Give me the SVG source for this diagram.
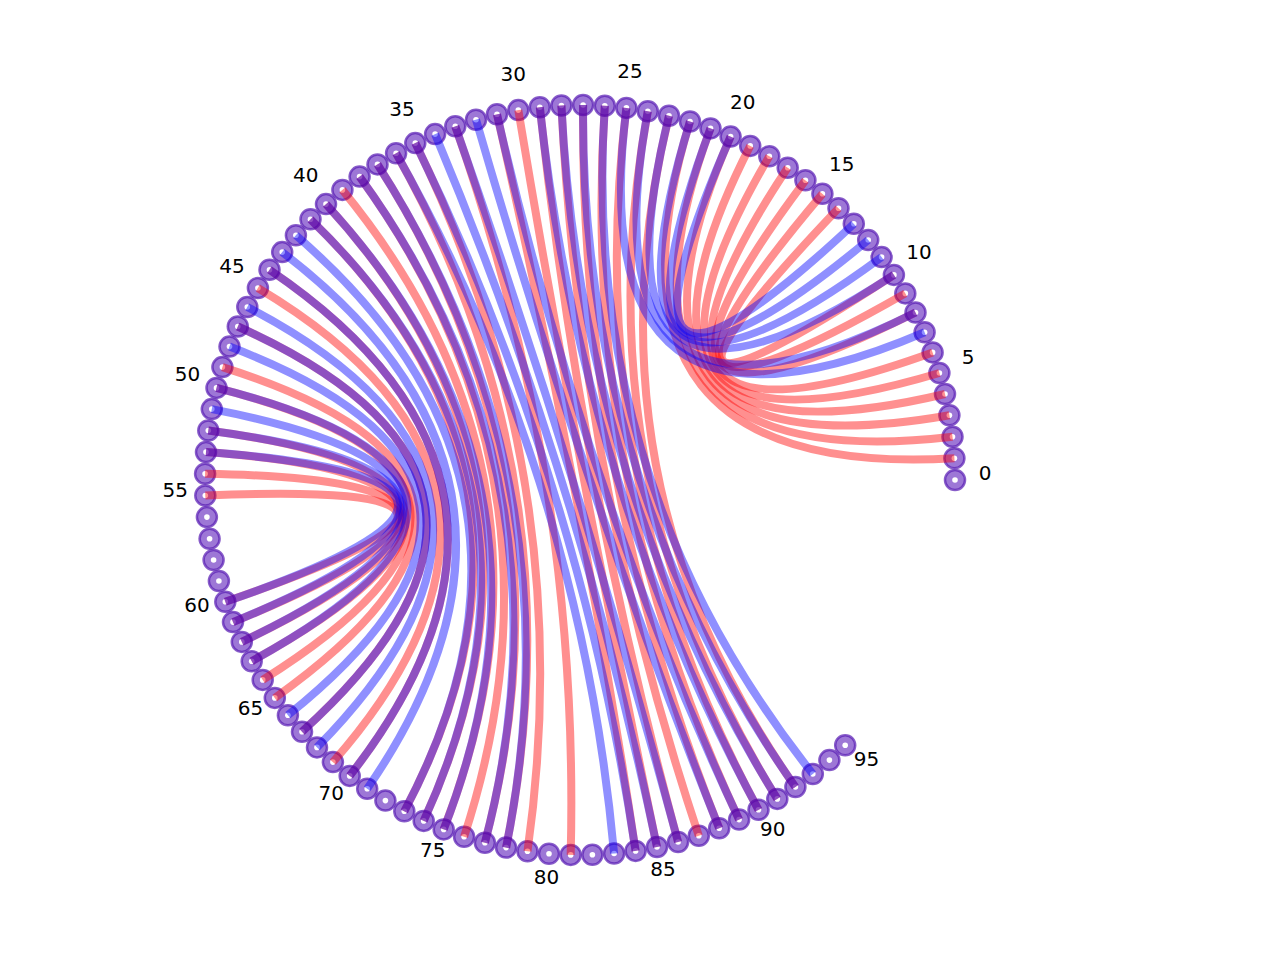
<svg xmlns="http://www.w3.org/2000/svg" width="1280" height="960" viewBox="0 0 1280 960">
<style>
.n{fill:#6e37c3;fill-opacity:0.68;stroke:#5a1eb4;stroke-opacity:0.72;stroke-width:2.5}
.d{fill:#ffffff}
.r{fill:none;stroke:#ff0000;stroke-opacity:0.44;stroke-width:8;stroke-linecap:butt}
.b{fill:none;stroke:#0000ff;stroke-opacity:0.44;stroke-width:8;stroke-linecap:butt}
.t{font-family:"DejaVu Sans","Liberation Sans",sans-serif;font-size:20px;fill:#000;text-anchor:middle}
</style>
<rect width="1280" height="960" fill="#ffffff"/>
<g id="nodes">
<g id="n0"><circle class="n" cx="955.0" cy="480.0" r="10"/><circle class="d" cx="955.0" cy="480.0" r="2.8"/></g>
<g id="n1"><circle class="n" cx="954.4" cy="458.3" r="10"/><circle class="d" cx="954.4" cy="458.3" r="2.8"/></g>
<g id="n2"><circle class="n" cx="952.5" cy="436.7" r="10"/><circle class="d" cx="952.5" cy="436.7" r="2.8"/></g>
<g id="n3"><circle class="n" cx="949.4" cy="415.2" r="10"/><circle class="d" cx="949.4" cy="415.2" r="2.8"/></g>
<g id="n4"><circle class="n" cx="945.0" cy="394.0" r="10"/><circle class="d" cx="945.0" cy="394.0" r="2.8"/></g>
<g id="n5"><circle class="n" cx="939.4" cy="373.0" r="10"/><circle class="d" cx="939.4" cy="373.0" r="2.8"/></g>
<g id="n6"><circle class="n" cx="932.6" cy="352.4" r="10"/><circle class="d" cx="932.6" cy="352.4" r="2.8"/></g>
<g id="n7"><circle class="n" cx="924.6" cy="332.2" r="10"/><circle class="d" cx="924.6" cy="332.2" r="2.8"/></g>
<g id="n8"><circle class="n" cx="915.5" cy="312.5" r="10"/><circle class="d" cx="915.5" cy="312.5" r="2.8"/></g>
<g id="n9"><circle class="n" cx="905.3" cy="293.4" r="10"/><circle class="d" cx="905.3" cy="293.4" r="2.8"/></g>
<g id="n10"><circle class="n" cx="893.9" cy="274.9" r="10"/><circle class="d" cx="893.9" cy="274.9" r="2.8"/></g>
<g id="n11"><circle class="n" cx="881.6" cy="257.1" r="10"/><circle class="d" cx="881.6" cy="257.1" r="2.8"/></g>
<g id="n12"><circle class="n" cx="868.2" cy="240.0" r="10"/><circle class="d" cx="868.2" cy="240.0" r="2.8"/></g>
<g id="n13"><circle class="n" cx="853.8" cy="223.8" r="10"/><circle class="d" cx="853.8" cy="223.8" r="2.8"/></g>
<g id="n14"><circle class="n" cx="838.5" cy="208.3" r="10"/><circle class="d" cx="838.5" cy="208.3" r="2.8"/></g>
<g id="n15"><circle class="n" cx="822.4" cy="193.8" r="10"/><circle class="d" cx="822.4" cy="193.8" r="2.8"/></g>
<g id="n16"><circle class="n" cx="805.4" cy="180.3" r="10"/><circle class="d" cx="805.4" cy="180.3" r="2.8"/></g>
<g id="n17"><circle class="n" cx="787.7" cy="167.8" r="10"/><circle class="d" cx="787.7" cy="167.8" r="2.8"/></g>
<g id="n18"><circle class="n" cx="769.3" cy="156.3" r="10"/><circle class="d" cx="769.3" cy="156.3" r="2.8"/></g>
<g id="n19"><circle class="n" cx="750.2" cy="145.9" r="10"/><circle class="d" cx="750.2" cy="145.9" r="2.8"/></g>
<g id="n20"><circle class="n" cx="730.6" cy="136.6" r="10"/><circle class="d" cx="730.6" cy="136.6" r="2.8"/></g>
<g id="n21"><circle class="n" cx="710.5" cy="128.4" r="10"/><circle class="d" cx="710.5" cy="128.4" r="2.8"/></g>
<g id="n22"><circle class="n" cx="690.0" cy="121.5" r="10"/><circle class="d" cx="690.0" cy="121.5" r="2.8"/></g>
<g id="n23"><circle class="n" cx="669.0" cy="115.7" r="10"/><circle class="d" cx="669.0" cy="115.7" r="2.8"/></g>
<g id="n24"><circle class="n" cx="647.8" cy="111.2" r="10"/><circle class="d" cx="647.8" cy="111.2" r="2.8"/></g>
<g id="n25"><circle class="n" cx="626.4" cy="107.9" r="10"/><circle class="d" cx="626.4" cy="107.9" r="2.8"/></g>
<g id="n26"><circle class="n" cx="604.8" cy="105.8" r="10"/><circle class="d" cx="604.8" cy="105.8" r="2.8"/></g>
<g id="n27"><circle class="n" cx="583.1" cy="105.0" r="10"/><circle class="d" cx="583.1" cy="105.0" r="2.8"/></g>
<g id="n28"><circle class="n" cx="561.4" cy="105.5" r="10"/><circle class="d" cx="561.4" cy="105.5" r="2.8"/></g>
<g id="n29"><circle class="n" cx="539.8" cy="107.2" r="10"/><circle class="d" cx="539.8" cy="107.2" r="2.8"/></g>
<g id="n30"><circle class="n" cx="518.3" cy="110.1" r="10"/><circle class="d" cx="518.3" cy="110.1" r="2.8"/></g>
<g id="n31"><circle class="n" cx="497.0" cy="114.3" r="10"/><circle class="d" cx="497.0" cy="114.3" r="2.8"/></g>
<g id="n32"><circle class="n" cx="476.0" cy="119.7" r="10"/><circle class="d" cx="476.0" cy="119.7" r="2.8"/></g>
<g id="n33"><circle class="n" cx="455.3" cy="126.3" r="10"/><circle class="d" cx="455.3" cy="126.3" r="2.8"/></g>
<g id="n34"><circle class="n" cx="435.1" cy="134.1" r="10"/><circle class="d" cx="435.1" cy="134.1" r="2.8"/></g>
<g id="n35"><circle class="n" cx="415.3" cy="143.1" r="10"/><circle class="d" cx="415.3" cy="143.1" r="2.8"/></g>
<g id="n36"><circle class="n" cx="396.1" cy="153.2" r="10"/><circle class="d" cx="396.1" cy="153.2" r="2.8"/></g>
<g id="n37"><circle class="n" cx="377.5" cy="164.4" r="10"/><circle class="d" cx="377.5" cy="164.4" r="2.8"/></g>
<g id="n38"><circle class="n" cx="359.6" cy="176.6" r="10"/><circle class="d" cx="359.6" cy="176.6" r="2.8"/></g>
<g id="n39"><circle class="n" cx="342.4" cy="189.9" r="10"/><circle class="d" cx="342.4" cy="189.9" r="2.8"/></g>
<g id="n40"><circle class="n" cx="326.0" cy="204.1" r="10"/><circle class="d" cx="326.0" cy="204.1" r="2.8"/></g>
<g id="n41"><circle class="n" cx="310.5" cy="219.3" r="10"/><circle class="d" cx="310.5" cy="219.3" r="2.8"/></g>
<g id="n42"><circle class="n" cx="295.9" cy="235.3" r="10"/><circle class="d" cx="295.9" cy="235.3" r="2.8"/></g>
<g id="n43"><circle class="n" cx="282.2" cy="252.1" r="10"/><circle class="d" cx="282.2" cy="252.1" r="2.8"/></g>
<g id="n44"><circle class="n" cx="269.5" cy="269.7" r="10"/><circle class="d" cx="269.5" cy="269.7" r="2.8"/></g>
<g id="n45"><circle class="n" cx="257.9" cy="288.0" r="10"/><circle class="d" cx="257.9" cy="288.0" r="2.8"/></g>
<g id="n46"><circle class="n" cx="247.3" cy="307.0" r="10"/><circle class="d" cx="247.3" cy="307.0" r="2.8"/></g>
<g id="n47"><circle class="n" cx="237.8" cy="326.5" r="10"/><circle class="d" cx="237.8" cy="326.5" r="2.8"/></g>
<g id="n48"><circle class="n" cx="229.5" cy="346.6" r="10"/><circle class="d" cx="229.5" cy="346.6" r="2.8"/></g>
<g id="n49"><circle class="n" cx="222.4" cy="367.1" r="10"/><circle class="d" cx="222.4" cy="367.1" r="2.8"/></g>
<g id="n50"><circle class="n" cx="216.5" cy="387.9" r="10"/><circle class="d" cx="216.5" cy="387.9" r="2.8"/></g>
<g id="n51"><circle class="n" cx="211.8" cy="409.1" r="10"/><circle class="d" cx="211.8" cy="409.1" r="2.8"/></g>
<g id="n52"><circle class="n" cx="208.3" cy="430.5" r="10"/><circle class="d" cx="208.3" cy="430.5" r="2.8"/></g>
<g id="n53"><circle class="n" cx="206.0" cy="452.1" r="10"/><circle class="d" cx="206.0" cy="452.1" r="2.8"/></g>
<g id="n54"><circle class="n" cx="205.1" cy="473.8" r="10"/><circle class="d" cx="205.1" cy="473.8" r="2.8"/></g>
<g id="n55"><circle class="n" cx="205.3" cy="495.5" r="10"/><circle class="d" cx="205.3" cy="495.5" r="2.8"/></g>
<g id="n56"><circle class="n" cx="206.9" cy="517.1" r="10"/><circle class="d" cx="206.9" cy="517.1" r="2.8"/></g>
<g id="n57"><circle class="n" cx="209.6" cy="538.7" r="10"/><circle class="d" cx="209.6" cy="538.7" r="2.8"/></g>
<g id="n58"><circle class="n" cx="213.6" cy="560.0" r="10"/><circle class="d" cx="213.6" cy="560.0" r="2.8"/></g>
<g id="n59"><circle class="n" cx="218.9" cy="581.0" r="10"/><circle class="d" cx="218.9" cy="581.0" r="2.8"/></g>
<g id="n60"><circle class="n" cx="225.3" cy="601.8" r="10"/><circle class="d" cx="225.3" cy="601.8" r="2.8"/></g>
<g id="n61"><circle class="n" cx="233.0" cy="622.1" r="10"/><circle class="d" cx="233.0" cy="622.1" r="2.8"/></g>
<g id="n62"><circle class="n" cx="241.8" cy="641.9" r="10"/><circle class="d" cx="241.8" cy="641.9" r="2.8"/></g>
<g id="n63"><circle class="n" cx="251.7" cy="661.2" r="10"/><circle class="d" cx="251.7" cy="661.2" r="2.8"/></g>
<g id="n64"><circle class="n" cx="262.7" cy="679.9" r="10"/><circle class="d" cx="262.7" cy="679.9" r="2.8"/></g>
<g id="n65"><circle class="n" cx="274.8" cy="697.9" r="10"/><circle class="d" cx="274.8" cy="697.9" r="2.8"/></g>
<g id="n66"><circle class="n" cx="287.9" cy="715.2" r="10"/><circle class="d" cx="287.9" cy="715.2" r="2.8"/></g>
<g id="n67"><circle class="n" cx="302.0" cy="731.7" r="10"/><circle class="d" cx="302.0" cy="731.7" r="2.8"/></g>
<g id="n68"><circle class="n" cx="317.0" cy="747.4" r="10"/><circle class="d" cx="317.0" cy="747.4" r="2.8"/></g>
<g id="n69"><circle class="n" cx="332.9" cy="762.1" r="10"/><circle class="d" cx="332.9" cy="762.1" r="2.8"/></g>
<g id="n70"><circle class="n" cx="349.7" cy="775.9" r="10"/><circle class="d" cx="349.7" cy="775.9" r="2.8"/></g>
<g id="n71"><circle class="n" cx="367.2" cy="788.8" r="10"/><circle class="d" cx="367.2" cy="788.8" r="2.8"/></g>
<g id="n72"><circle class="n" cx="385.4" cy="800.6" r="10"/><circle class="d" cx="385.4" cy="800.6" r="2.8"/></g>
<g id="n73"><circle class="n" cx="404.3" cy="811.3" r="10"/><circle class="d" cx="404.3" cy="811.3" r="2.8"/></g>
<g id="n74"><circle class="n" cx="423.7" cy="820.9" r="10"/><circle class="d" cx="423.7" cy="820.9" r="2.8"/></g>
<g id="n75"><circle class="n" cx="443.7" cy="829.4" r="10"/><circle class="d" cx="443.7" cy="829.4" r="2.8"/></g>
<g id="n76"><circle class="n" cx="464.1" cy="836.7" r="10"/><circle class="d" cx="464.1" cy="836.7" r="2.8"/></g>
<g id="n77"><circle class="n" cx="484.9" cy="842.8" r="10"/><circle class="d" cx="484.9" cy="842.8" r="2.8"/></g>
<g id="n78"><circle class="n" cx="506.1" cy="847.6" r="10"/><circle class="d" cx="506.1" cy="847.6" r="2.8"/></g>
<g id="n79"><circle class="n" cx="527.5" cy="851.3" r="10"/><circle class="d" cx="527.5" cy="851.3" r="2.8"/></g>
<g id="n80"><circle class="n" cx="549.0" cy="853.7" r="10"/><circle class="d" cx="549.0" cy="853.7" r="2.8"/></g>
<g id="n81"><circle class="n" cx="570.7" cy="854.9" r="10"/><circle class="d" cx="570.7" cy="854.9" r="2.8"/></g>
<g id="n82"><circle class="n" cx="592.4" cy="854.8" r="10"/><circle class="d" cx="592.4" cy="854.8" r="2.8"/></g>
<g id="n83"><circle class="n" cx="614.1" cy="853.5" r="10"/><circle class="d" cx="614.1" cy="853.5" r="2.8"/></g>
<g id="n84"><circle class="n" cx="635.6" cy="850.9" r="10"/><circle class="d" cx="635.6" cy="850.9" r="2.8"/></g>
<g id="n85"><circle class="n" cx="657.0" cy="847.0" r="10"/><circle class="d" cx="657.0" cy="847.0" r="2.8"/></g>
<g id="n86"><circle class="n" cx="678.1" cy="842.0" r="10"/><circle class="d" cx="678.1" cy="842.0" r="2.8"/></g>
<g id="n87"><circle class="n" cx="698.8" cy="835.7" r="10"/><circle class="d" cx="698.8" cy="835.7" r="2.8"/></g>
<g id="n88"><circle class="n" cx="719.2" cy="828.2" r="10"/><circle class="d" cx="719.2" cy="828.2" r="2.8"/></g>
<g id="n89"><circle class="n" cx="739.1" cy="819.6" r="10"/><circle class="d" cx="739.1" cy="819.6" r="2.8"/></g>
<g id="n90"><circle class="n" cx="758.5" cy="809.8" r="10"/><circle class="d" cx="758.5" cy="809.8" r="2.8"/></g>
<g id="n91"><circle class="n" cx="777.3" cy="798.9" r="10"/><circle class="d" cx="777.3" cy="798.9" r="2.8"/></g>
<g id="n92"><circle class="n" cx="795.4" cy="787.0" r="10"/><circle class="d" cx="795.4" cy="787.0" r="2.8"/></g>
<g id="n93"><circle class="n" cx="812.8" cy="774.0" r="10"/><circle class="d" cx="812.8" cy="774.0" r="2.8"/></g>
<g id="n94"><circle class="n" cx="829.4" cy="760.1" r="10"/><circle class="d" cx="829.4" cy="760.1" r="2.8"/></g>
<g id="n95"><circle class="n" cx="845.2" cy="745.2" r="10"/><circle class="d" cx="845.2" cy="745.2" r="2.8"/></g>
</g>
<g id="connectors">
<g id="red">
<path class="r" d="M893.9 274.9Q580 480 838.5 208.3"/>
<path class="r" d="M905.3 293.4Q580 480 822.4 193.8"/>
<path class="r" d="M915.5 312.5Q580 480 805.4 180.3"/>
<path class="r" d="M932.6 352.4Q580 480 787.7 167.8"/>
<path class="r" d="M939.4 373.0Q580 480 769.3 156.3"/>
<path class="r" d="M945.0 394.0Q580 480 750.2 145.9"/>
<path class="r" d="M949.4 415.2Q580 480 730.6 136.6"/>
<path class="r" d="M952.5 436.7Q580 480 710.5 128.4"/>
<path class="r" d="M954.4 458.3Q580 480 690.0 121.5"/>
<path class="r" d="M669.0 115.7Q580 480 795.4 787.0"/>
<path class="r" d="M647.8 111.2Q580 480 777.3 798.9"/>
<path class="r" d="M626.4 107.9Q580 480 758.5 809.8"/>
<path class="r" d="M604.8 105.8Q580 480 739.1 819.6"/>
<path class="r" d="M583.1 105.0Q580 480 719.2 828.2"/>
<path class="r" d="M561.4 105.5Q580 480 698.8 835.7"/>
<path class="r" d="M539.8 107.2Q580 480 678.1 842.0"/>
<path class="r" d="M518.3 110.1Q580 480 657.0 847.0"/>
<path class="r" d="M497.0 114.3Q580 480 635.6 850.9"/>
<path class="r" d="M455.3 126.3Q580 480 570.7 854.9"/>
<path class="r" d="M415.3 143.1Q580 480 527.5 851.3"/>
<path class="r" d="M396.1 153.2Q580 480 506.1 847.6"/>
<path class="r" d="M377.5 164.4Q580 480 484.9 842.8"/>
<path class="r" d="M359.6 176.6Q580 480 464.1 836.7"/>
<path class="r" d="M342.4 189.9Q580 480 443.7 829.4"/>
<path class="r" d="M326.0 204.1Q580 480 423.7 820.9"/>
<path class="r" d="M310.5 219.3Q580 480 404.3 811.3"/>
<path class="r" d="M269.5 269.7Q580 480 349.7 775.9"/>
<path class="r" d="M257.9 288.0Q580 480 332.9 762.1"/>
<path class="r" d="M237.8 326.5Q580 480 302.0 731.7"/>
<path class="r" d="M222.4 367.1Q580 480 274.8 697.9"/>
<path class="r" d="M216.5 387.9Q580 480 262.7 679.9"/>
<path class="r" d="M208.3 430.5Q580 480 251.7 661.2"/>
<path class="r" d="M206.0 452.1Q580 480 241.8 641.9"/>
<path class="r" d="M205.1 473.8Q580 480 233.0 622.1"/>
<path class="r" d="M205.3 495.5Q580 480 225.3 601.8"/>
</g>
<g id="blue">
<path class="b" d="M924.6 332.2Q580 480 626.4 107.9"/>
<path class="b" d="M915.5 312.5Q580 480 647.8 111.2"/>
<path class="b" d="M893.9 274.9Q580 480 669.0 115.7"/>
<path class="b" d="M881.6 257.1Q580 480 690.0 121.5"/>
<path class="b" d="M868.2 240.0Q580 480 710.5 128.4"/>
<path class="b" d="M853.8 223.8Q580 480 730.6 136.6"/>
<path class="b" d="M604.8 105.8Q580 480 812.8 774.0"/>
<path class="b" d="M583.1 105.0Q580 480 795.4 787.0"/>
<path class="b" d="M561.4 105.5Q580 480 777.3 798.9"/>
<path class="b" d="M539.8 107.2Q580 480 758.5 809.8"/>
<path class="b" d="M497.0 114.3Q580 480 739.1 819.6"/>
<path class="b" d="M476.0 119.7Q580 480 719.2 828.2"/>
<path class="b" d="M455.3 126.3Q580 480 678.1 842.0"/>
<path class="b" d="M435.1 134.1Q580 480 657.0 847.0"/>
<path class="b" d="M415.3 143.1Q580 480 635.6 850.9"/>
<path class="b" d="M396.1 153.2Q580 480 614.1 853.5"/>
<path class="b" d="M377.5 164.4Q580 480 506.1 847.6"/>
<path class="b" d="M359.6 176.6Q580 480 484.9 842.8"/>
<path class="b" d="M326.0 204.1Q580 480 443.7 829.4"/>
<path class="b" d="M310.5 219.3Q580 480 423.7 820.9"/>
<path class="b" d="M295.9 235.3Q580 480 404.3 811.3"/>
<path class="b" d="M282.2 252.1Q580 480 367.2 788.8"/>
<path class="b" d="M269.5 269.7Q580 480 349.7 775.9"/>
<path class="b" d="M247.3 307.0Q580 480 317.0 747.4"/>
<path class="b" d="M237.8 326.5Q580 480 302.0 731.7"/>
<path class="b" d="M229.5 346.6Q580 480 287.9 715.2"/>
<path class="b" d="M216.5 387.9Q580 480 251.7 661.2"/>
<path class="b" d="M211.8 409.1Q580 480 241.8 641.9"/>
<path class="b" d="M208.3 430.5Q580 480 233.0 622.1"/>
<path class="b" d="M206.0 452.1Q580 480 225.3 601.8"/>
</g>
</g>
<g id="labels">
<text class="t" x="985.0" y="480.0">0</text>
<text class="t" x="968.2" y="364.4">5</text>
<text class="t" x="919.1" y="258.5">10</text>
<text class="t" x="841.8" y="170.9">15</text>
<text class="t" x="742.7" y="109.1">20</text>
<text class="t" x="630.1" y="78.1">25</text>
<text class="t" x="513.3" y="80.5">30</text>
<text class="t" x="402.1" y="116.1">35</text>
<text class="t" x="305.7" y="182.0">40</text>
<text class="t" x="232.1" y="272.7">45</text>
<text class="t" x="187.4" y="380.6">50</text>
<text class="t" x="175.3" y="496.7">55</text>
<text class="t" x="196.9" y="611.5">60</text>
<text class="t" x="250.4" y="715.3">65</text>
<text class="t" x="331.2" y="799.6">70</text>
<text class="t" x="432.8" y="857.3">75</text>
<text class="t" x="546.6" y="883.6">80</text>
<text class="t" x="663.1" y="876.4">85</text>
<text class="t" x="772.8" y="836.2">90</text>
<text class="t" x="866.4" y="766.4">95</text>
</g>
</svg>
